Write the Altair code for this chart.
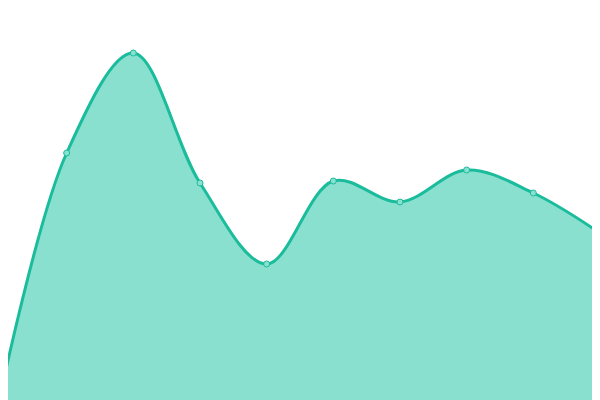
import altair as alt
import pandas as pd

idx = [0, 1, 2, 3, 4, 5, 6, 7, 8, 9]
values = [3, 247, 347, 217, 136, 219, 198, 230, 207, 167]

df = pd.DataFrame({"i": idx, "v": values})

x = alt.X("i:Q", scale=alt.Scale(domain=[0.12, 8.88], nice=False, zero=False), axis=None)
y = alt.Y("v:Q", scale=alt.Scale(domain=[0, 392], nice=False), axis=None)

base = alt.Chart(df).encode(x=x, y=y)
area = base.mark_area(interpolate="catmull-rom", color="#8ae0cf", opacity=1, clip=True)
line = base.mark_line(interpolate="catmull-rom", color="#1abc9c", strokeWidth=3, clip=True)
pts = base.mark_point(filled=True, shape="circle", size=36, fill="#8ae0cf",
                      stroke="#1abc9c", strokeWidth=1, opacity=1, clip=True)

chart = (area + line + pts).properties(width=584, height=392, padding=0,
                                       autosize=alt.AutoSizeParams(type="none")).configure_view(stroke=None)
chart.save("out.html", embed_options={"renderer": "svg", "actions": False})
